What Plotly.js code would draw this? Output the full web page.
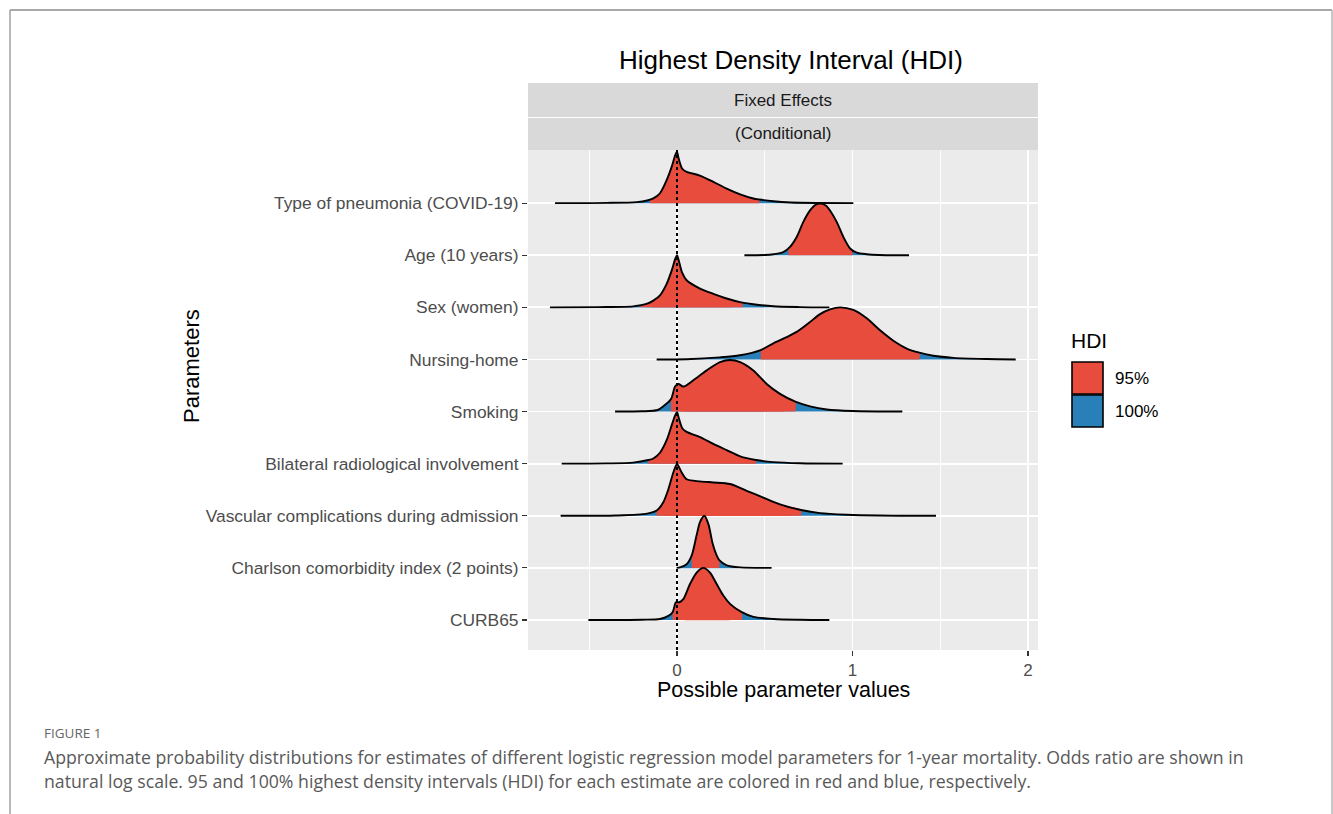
<!DOCTYPE html>
<html>
<head>
<meta charset="utf-8">
<script src="https://cdn.plot.ly/plotly-3.0.1.min.js"></script>
<style>
html,body{margin:0;padding:0;background:#fff;}
#chart{width:1333px;height:814px;}
</style>
</head>
<body>
<div id="chart"></div>
<script>
// ---- Data ----
const categories = [
  "Type of pneumonia (COVID-19)",
  "Age (10 years)",
  "Sex (women)",
  "Nursing-home",
  "Smoking",
  "Bilateral radiological involvement",
  "Vascular complications during admission",
  "Charlson comorbidity index (2 points)",
  "CURB65"
];
const rowPositions = [9, 8, 7, 6, 5, 4, 3, 2, 1];

// density curves: x values and relative heights
const covidX = [-0.695,-0.40,-0.23,-0.17,-0.135,-0.097,-0.059,-0.03,-0.01,0.0,0.01,0.03,0.055,0.13,0.207,0.283,0.36,0.435,0.469,0.549,0.65,0.80,1.005];
const covidH = [0,0.005,0.02,0.05,0.09,0.19,0.44,0.70,0.92,0.985,0.85,0.66,0.60,0.53,0.41,0.28,0.17,0.09,0.07,0.035,0.012,0.003,0];
const ageX = [0.384,0.50,0.55,0.606,0.644,0.682,0.72,0.758,0.79,0.819,0.85,0.872,0.91,0.948,0.986,1.024,1.08,1.15,1.322];
const ageH = [0,0.005,0.02,0.06,0.16,0.35,0.64,0.86,0.97,0.99,0.95,0.86,0.64,0.35,0.13,0.05,0.02,0.005,0];
const sexX = [-0.724,-0.45,-0.25,-0.17,-0.135,-0.097,-0.059,-0.03,-0.01,0.0,0.01,0.03,0.055,0.131,0.207,0.283,0.36,0.435,0.549,0.70,0.868];
const sexH = [0,0.005,0.02,0.07,0.13,0.23,0.45,0.71,0.93,1.0,0.90,0.66,0.52,0.36,0.26,0.17,0.10,0.06,0.02,0.005,0];
const nursingX = [-0.116,0.055,0.245,0.359,0.477,0.549,0.625,0.682,0.758,0.815,0.872,0.929,1.005,1.081,1.157,1.233,1.309,1.381,1.461,1.575,1.765,1.93];
const nursingH = [0,0.005,0.04,0.08,0.18,0.31,0.43,0.53,0.72,0.87,0.96,1.0,0.95,0.79,0.56,0.36,0.21,0.13,0.07,0.03,0.008,0];
const smokingX = [-0.353,-0.20,-0.11,-0.078,-0.034,-0.011,0.008,0.036,0.093,0.169,0.245,0.302,0.36,0.435,0.511,0.587,0.674,0.758,0.853,1.0,1.284];
const smokingH = [0,0.005,0.03,0.10,0.24,0.48,0.53,0.48,0.60,0.79,0.95,0.99,0.95,0.79,0.53,0.34,0.19,0.10,0.04,0.01,0];
const bilateralX = [-0.657,-0.40,-0.25,-0.163,-0.135,-0.097,-0.059,-0.03,-0.01,0.0,0.01,0.03,0.055,0.131,0.207,0.283,0.36,0.45,0.549,0.70,0.944];
const bilateralH = [0,0.005,0.02,0.07,0.10,0.21,0.45,0.74,0.93,0.99,0.88,0.68,0.61,0.51,0.38,0.26,0.14,0.07,0.03,0.008,0];
const vascularX = [-0.663,-0.35,-0.17,-0.116,-0.078,-0.049,-0.021,0.0,0.027,0.055,0.131,0.207,0.302,0.397,0.492,0.587,0.707,0.815,0.967,1.15,1.476];
const vascularH = [0,0.005,0.04,0.10,0.26,0.51,0.83,0.99,0.83,0.70,0.66,0.64,0.61,0.48,0.35,0.22,0.11,0.05,0.02,0.005,0];
const charlsonX = [-0.002,0.017,0.055,0.084,0.112,0.131,0.156,0.179,0.203,0.226,0.241,0.283,0.36,0.539];
const charlsonH = [0,0.01,0.07,0.24,0.63,0.88,1.0,0.84,0.47,0.24,0.15,0.05,0.01,0];
const curbX = [-0.505,-0.20,-0.097,-0.049,-0.025,-0.006,0.013,0.036,0.074,0.112,0.15,0.188,0.226,0.264,0.302,0.369,0.435,0.549,0.70,0.868];
const curbH = [0,0.005,0.02,0.08,0.15,0.34,0.34,0.40,0.69,0.91,1.0,0.91,0.69,0.47,0.31,0.15,0.06,0.02,0.005,0];

// 95% HDI limits (same order as categories)
const hdi95Low  = [-0.154, 0.635, -0.207, 0.477, -0.034, -0.163, -0.116, 0.084, -0.025];
const hdi95High = [ 0.469, 0.999,  0.374, 1.381,  0.674,  0.450,  0.707, 0.241,  0.369];

const legendLabels = ["95%", "100%"];
const xTickVals = [0, 1, 2];

const curvesX = [covidX, ageX, sexX, nursingX, smokingX, bilateralX, vascularX, charlsonX, curbX];
const curvesH = [covidH, ageH, sexH, nursingH, smokingH, bilateralH, vascularH, charlsonH, curbH];

// ---- Styles ----
const RED = "#E74C3C", BLUE = "#2980B9";
const W = 1333, H = 814;
const px = v => v / W;
const py = v => 1 - v / H;
const SMOOTH = 0.8;

function interp(xs, hs, x) {
  for (let i = 0; i < xs.length - 1; i++) {
    if (x >= xs[i] && x <= xs[i + 1]) {
      const t = (x - xs[i]) / (xs[i + 1] - xs[i]);
      return hs[i] + t * (hs[i + 1] - hs[i]);
    }
  }
  return 0;
}

const traces = [];
categories.forEach((cat, i) => {
  const xs = curvesX[i], hs = curvesH[i], b = rowPositions[i];
  // full (100% HDI) area
  traces.push({
    type: "scatter", mode: "lines", x: xs.concat([xs[xs.length - 1], xs[0]]),
    y: hs.map(h => b + h).concat([b, b]), fill: "toself", fillcolor: BLUE,
    line: {width: 0, color: BLUE, shape: "spline", smoothing: SMOOTH}, hoverinfo: "skip", showlegend: false
  });
  // 95% HDI area
  const lo = hdi95Low[i], hi = hdi95High[i];
  const rx = [lo], ry = [b + interp(xs, hs, lo)];
  xs.forEach((x, j) => { if (x > lo && x < hi) { rx.push(x); ry.push(b + hs[j]); } });
  rx.push(hi); ry.push(b + interp(xs, hs, hi));
  rx.push(hi, hi, lo, lo); ry.push(b + 0.0001, b, b, b + 0.0001);
  traces.push({
    type: "scatter", mode: "lines", x: rx, y: ry, fill: "toself", fillcolor: RED,
    line: {width: 0, color: RED, shape: "spline", smoothing: SMOOTH}, hoverinfo: "skip", showlegend: false
  });
  // outline
  traces.push({
    type: "scatter", mode: "lines", x: xs, y: hs.map(h => b + h),
    line: {width: 1.9, color: "#000000", shape: "spline", smoothing: SMOOTH}, hoverinfo: "skip", showlegend: false
  });
});

const panelL = 528, panelR = 1038, panelT = 150, panelB = 650;

const shapes = [
  // outer frame
  {type: "line", xref: "paper", yref: "paper", x0: px(10), x1: px(1332), y0: py(10), y1: py(10), line: {color: "#8C8C8C", width: 1.5}},
  {type: "line", xref: "paper", yref: "paper", x0: px(10), x1: px(10), y0: py(10), y1: py(814), line: {color: "#A0A0A0", width: 1.5}},
  {type: "line", xref: "paper", yref: "paper", x0: px(1332), x1: px(1332), y0: py(10), y1: py(814), line: {color: "#B4B4B4", width: 1.5}},
  // strips
  {type: "rect", xref: "paper", yref: "paper", x0: px(panelL), x1: px(panelR), y0: py(117), y1: py(83), fillcolor: "#D9D9D9", line: {width: 0}, layer: "below"},
  {type: "rect", xref: "paper", yref: "paper", x0: px(panelL), x1: px(panelR), y0: py(150), y1: py(118), fillcolor: "#D9D9D9", line: {width: 0}, layer: "below"},
  // zero reference line
  {type: "line", xref: "x", yref: "y domain", x0: 0, x1: 0, y0: 0, y1: 1, line: {color: "#000000", width: 2, dash: "dot"}},
  // legend keys
  {type: "rect", xref: "paper", yref: "paper", x0: px(1072), x1: px(1103), y0: py(394), y1: py(362), fillcolor: RED, line: {color: "#000", width: 1.6}},
  {type: "rect", xref: "paper", yref: "paper", x0: px(1072), x1: px(1103), y0: py(427), y1: py(395), fillcolor: BLUE, line: {color: "#000", width: 1.6}}
];

const FONT = "Liberation Sans, Arial, sans-serif";
const CAPFONT = "Open Sans, sans-serif";
const annotations = [
  {text: "Highest Density Interval (HDI)", xref: "paper", yref: "paper", x: px(791), y: py(60), showarrow: false, xanchor: "center", yanchor: "middle", font: {family: FONT, size: 26, color: "#000"}},
  {text: "Fixed Effects", xref: "paper", yref: "paper", x: px(783), y: py(101), showarrow: false, xanchor: "center", yanchor: "middle", font: {family: FONT, size: 17, color: "#1A1A1A"}},
  {text: "(Conditional)", xref: "paper", yref: "paper", x: px(783), y: py(134), showarrow: false, xanchor: "center", yanchor: "middle", font: {family: FONT, size: 17, color: "#1A1A1A"}},
  {text: "HDI", xref: "paper", yref: "paper", x: px(1069), y: py(340), showarrow: false, xanchor: "left", yanchor: "middle", font: {family: FONT, size: 21, color: "#000"}},
  {text: legendLabels[0], xref: "paper", yref: "paper", x: px(1113), y: py(378), showarrow: false, xanchor: "left", yanchor: "middle", font: {family: FONT, size: 17, color: "#000"}},
  {text: legendLabels[1], xref: "paper", yref: "paper", x: px(1113), y: py(411), showarrow: false, xanchor: "left", yanchor: "middle", font: {family: FONT, size: 17, color: "#000"}},
  {text: "Parameters", xref: "paper", yref: "paper", x: px(191), y: py(366), showarrow: false, textangle: -90, xanchor: "center", yanchor: "middle", font: {family: FONT, size: 22, color: "#000"}},
  {text: "Possible parameter values", xref: "paper", yref: "paper", x: px(783), y: py(690), showarrow: false, xanchor: "center", yanchor: "middle", font: {family: FONT, size: 21.5, color: "#000"}},
  {text: "FIGURE 1", xref: "paper", yref: "paper", x: px(42), y: py(733), showarrow: false, xanchor: "left", yanchor: "middle", font: {family: CAPFONT, size: 13.5, color: "#666666"}},
  {text: "Approximate probability distributions for estimates of different logistic regression model parameters for 1-year mortality. Odds ratio are shown in", xref: "paper", yref: "paper", x: px(42), y: py(757), showarrow: false, xanchor: "left", yanchor: "middle", font: {family: CAPFONT, size: 17.7, color: "#595959"}},
  {text: "natural log scale. 95 and 100% highest density intervals (HDI) for each estimate are colored in red and blue, respectively.", xref: "paper", yref: "paper", x: px(42), y: py(781), showarrow: false, xanchor: "left", yanchor: "middle", font: {family: CAPFONT, size: 17.7, color: "#595959"}}
];

const layout = {
  width: W, height: H,
  margin: {l: 0, r: 0, t: 0, b: 0},
  paper_bgcolor: "#FFFFFF",
  plot_bgcolor: "#EBEBEB",
  showlegend: false,
  xaxis: {
    domain: [px(panelL), px(panelR)],
    range: [-0.849, 2.057],
    tickvals: xTickVals, ticktext: xTickVals.map(String),
    ticks: "outside", ticklen: 5, tickwidth: 1.2, tickcolor: "#333333",
    tickfont: {family: FONT, size: 17, color: "#4D4D4D"},
    showgrid: true, gridcolor: "#FFFFFF", gridwidth: 1.8,
    minor: {dtick: 0.5, tick0: 0, showgrid: true, gridcolor: "#FFFFFF", gridwidth: 0.9, ticks: ""},
    zeroline: false, showline: false, fixedrange: true
  },
  yaxis: {
    domain: [1 - panelB / H, 1 - panelT / H],
    range: [0.424, 10.02],
    tickvals: rowPositions, ticktext: categories,
    ticks: "outside", ticklen: 5, tickwidth: 1.2, tickcolor: "#333333",
    tickfont: {family: FONT, size: 17.4, color: "#4D4D4D"},
    showgrid: true, gridcolor: "#FFFFFF", gridwidth: 1.8,
    zeroline: false, showline: false, fixedrange: true
  },
  shapes: shapes,
  annotations: annotations
};

Plotly.newPlot("chart", traces, layout, {displayModeBar: false, staticPlot: true});
</script>
</body>
</html>
